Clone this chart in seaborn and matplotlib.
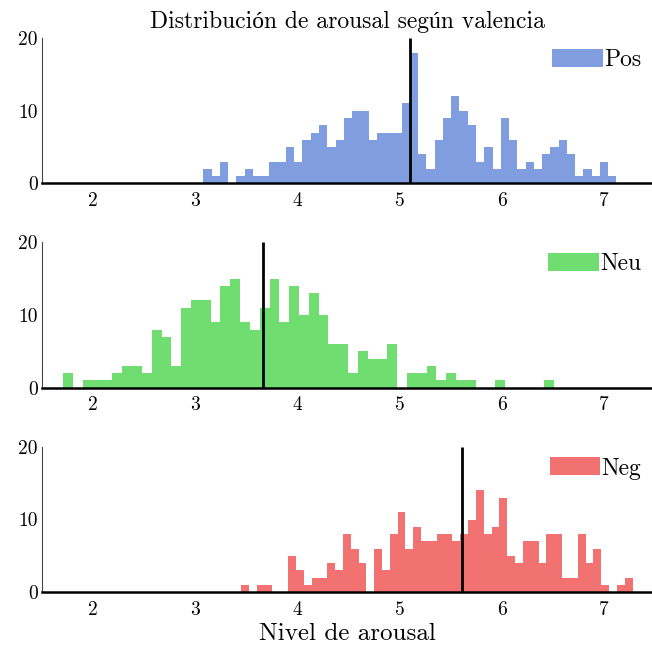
import numpy as np
import pandas as pd
import matplotlib
matplotlib.use("Agg")
import matplotlib.pyplot as plt
import seaborn as sns

# Histogram counts per valence group (50 bins each)
pos_counts = [2, 1, 3, 0, 1, 2, 1, 1, 3, 3, 5, 3, 6, 7, 8, 5, 6, 9, 10, 10,
              6, 7, 7, 7, 11, 18, 4, 2, 6, 9, 12, 10, 8, 3, 5, 2, 9, 6, 2, 3,
              2, 4, 5, 6, 4, 1, 2, 1, 3, 1]
neu_counts = [2, 0, 1, 1, 1, 2, 3, 3, 2, 8, 7, 3, 11, 12, 12, 9, 14, 15, 9, 8,
              11, 15, 9, 14, 10, 13, 10, 6, 6, 2, 5, 4, 4, 6, 0, 2, 2, 3, 1, 2,
              1, 1, 0, 0, 1, 0, 0, 0, 0, 1]
neg_counts = [1, 0, 1, 1, 0, 0, 5, 3, 1, 2, 2, 4, 3, 8, 6, 4, 0, 6, 3, 8,
              11, 6, 9, 7, 7, 8, 8, 7, 8, 10, 14, 8, 9, 13, 5, 4, 7, 7, 4, 8,
              8, 2, 2, 8, 4, 6, 1, 0, 1, 2]

# Data range of each group (histogram limits)
pos_range = (3.079, 7.122)
neu_range = (1.709, 6.514)
neg_range = (3.448, 7.280)

# Mean arousal of each group
pos_mean = 5.10
neu_mean = 3.66
neg_mean = 5.61

labels = ["Pos", "Neu", "Neg"]
colors = ["#7f9ddf", "#70dd70", "#f27272"]
x_ticks = [2, 3, 4, 5, 6, 7]
y_ticks = [0, 10, 20]

sns.set_theme(style="white")
plt.rcParams["font.family"] = ["cmr10", "Liberation Serif", "DejaVu Serif"]
plt.rcParams["axes.formatter.use_mathtext"] = True
plt.rcParams["axes.unicode_minus"] = False
plt.rcParams["text.color"] = "black"
plt.rcParams["axes.labelcolor"] = "black"

fig = plt.figure(figsize=(6.52, 6.49), dpi=100)
bottoms = [0.7173, 0.4026, 0.0874]
height = 0.2242
left = 42 / 652
width = 1 - left

groups = [
    (pos_counts, pos_range, pos_mean),
    (neu_counts, neu_range, neu_mean),
    (neg_counts, neg_range, neg_mean),
]

axes = []
for (counts, rng, mean), lab, col, b in zip(groups, labels, colors, bottoms):
    ax = fig.add_axes([left, b, width, height])
    edges = np.linspace(rng[0], rng[1], len(counts) + 1)
    df = pd.DataFrame({"arousal": (edges[:-1] + edges[1:]) / 2,
                       "n": np.asarray(counts, dtype=float)})
    sns.histplot(data=df, x="arousal", weights="n", bins=list(edges), ax=ax,
                 color=col, alpha=1.0, edgecolor="none", linewidth=0,
                 label=lab)
    ax.vlines(mean, 0, 20, color="black", linewidth=2, zorder=5)
    ax.set_xlim(1.5, 7.47)
    ax.set_ylim(0, 20)
    ax.set_xticks(x_ticks)
    ax.set_yticks(y_ticks)
    ax.set_xticklabels([str(t) for t in x_ticks])
    ax.set_yticklabels([str(t) for t in y_ticks])
    ax.set_ylabel("")
    ax.set_xlabel("")
    ax.tick_params(direction="in", length=5, width=0.8, colors="#222222",
                   labelsize=14, labelcolor="black")
    ax.tick_params(axis="x", pad=6)
    ax.tick_params(axis="y", pad=3)
    for s in ["top", "right"]:
        ax.spines[s].set_visible(False)
    ax.spines["bottom"].set_color("black")
    ax.spines["bottom"].set_linewidth(1.8)
    ax.spines["left"].set_color("#444444")
    ax.spines["left"].set_linewidth(0.8)
    ax.legend(loc="upper right", frameon=False, fontsize=17,
              handlelength=2.15, handleheight=0.8, handletextpad=0.05,
              borderaxespad=0.0, borderpad=0.45, labelcolor="black")
    ax.set_facecolor("white")
    axes.append(ax)

axes[0].set_title("Distribución de arousal según valencia", fontsize=17,
                  pad=7, color="black")
axes[2].set_xlabel("Nivel de arousal", fontsize=18, labelpad=3, color="black")

fig.savefig("out.png", dpi=100, facecolor="white")
